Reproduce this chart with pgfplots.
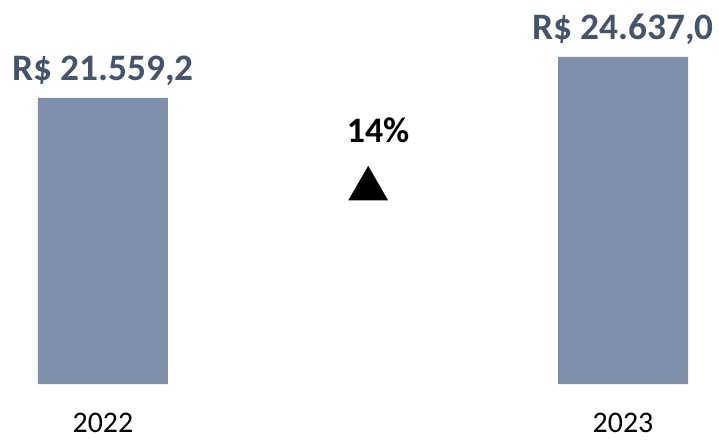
\documentclass[border=0pt]{standalone}
\usepackage{pgfplots}
\pgfplotsset{compat=1.18}
\usepackage{fontspec}
\setmainfont{Carlito}
\usetikzlibrary{shapes.geometric}
\definecolor{barblue}{HTML}{7F8FA9}
\definecolor{labelblue}{HTML}{44546A}

\begin{document}
\begin{tikzpicture}
	\begin{axis}[
		scale only axis,
		width=719bp, height=384bp,
		xmin=-0.198, xmax=1.1846,
		ymin=0, ymax=28931,
		axis line style={draw=none},
		major tick length=0pt,
		ytick=\empty,
		xtick={0,1},
		xticklabels={2022,2023},
		xticklabel style={font=\fontsize{30}{36}\selectfont, inner sep=0pt, anchor=north, yshift=-29bp},
		ybar, bar width=130bp,
		nodes near coords,
		point meta=explicit symbolic,
		every node near coord/.append style={font=\bfseries\fontsize{37.5}{42}\selectfont, text=labelblue, anchor=south, inner sep=0pt, yshift=12bp},
		clip=false,
		]
		\addplot[fill=barblue, draw=none] coordinates {(0,21559.2) [R\$ 21.559,2] (1,24637.0) [R\$ 24.637,0]};
		\node[font=\bfseries\fontsize{36}{42}\selectfont, anchor=center] at (axis cs:0.529,19137) {14\%};
		\node[regular polygon, regular polygon sides=3, fill=black, inner sep=0pt, minimum size=46bp] at (axis cs:0.51,14700) {};
	\end{axis}
	\pgfresetboundingbox
	\path (0bp,-56bp) rectangle (719bp,384bp);
\end{tikzpicture}
\end{document}
